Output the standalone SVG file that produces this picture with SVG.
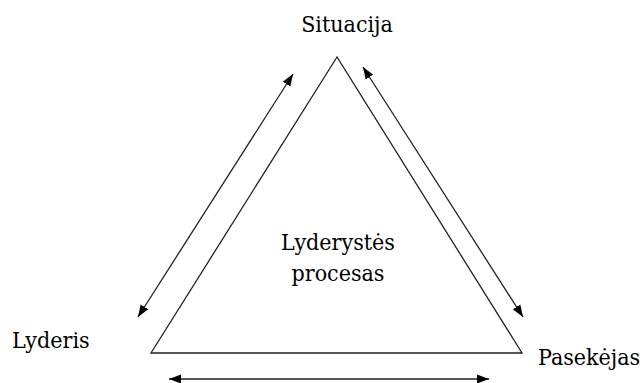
<svg xmlns="http://www.w3.org/2000/svg" width="640" height="383" viewBox="0 0 640 383">
<style>
.t{font-family:'DejaVu Serif Condensed','DejaVu Serif',serif;font-stretch:condensed;font-size:23px;fill:#000}
.c{stroke:#222;stroke-width:1.3;fill:none}
</style>
<defs>
<marker id="ah" viewBox="0 0 12 10" refX="12" refY="5" markerWidth="12" markerHeight="10" markerUnits="userSpaceOnUse" orient="auto-start-reverse">
<path d="M0,0.5 L12,5 L0,9.5 Z" fill="#000"/>
</marker>
</defs>
<rect width="640" height="383" fill="#fff"/>
<g id="triangle">
<polygon class="c" points="337,57 151,353 522,353"/>
</g>
<g id="connectors">
<line class="c" x1="138" y1="317" x2="293" y2="74" marker-start="url(#ah)" marker-end="url(#ah)"/>
<line class="c" x1="363" y1="67" x2="523" y2="317" marker-start="url(#ah)" marker-end="url(#ah)"/>
<line class="c" x1="169" y1="379" x2="489" y2="379" marker-start="url(#ah)" marker-end="url(#ah)"/>
</g>
<g id="situacija"><text class="t" x="347" y="32" text-anchor="middle">Situacija</text></g>
<g id="lyderis"><text class="t" x="12" y="348">Lyderis</text></g>
<g id="pasekejas"><text class="t" x="538" y="365">Pasekėjas</text></g>
<g id="procesas"><text class="t" x="338" y="250" text-anchor="middle">Lyderystės</text><text class="t" x="338" y="281" text-anchor="middle">procesas</text></g>
</svg>
